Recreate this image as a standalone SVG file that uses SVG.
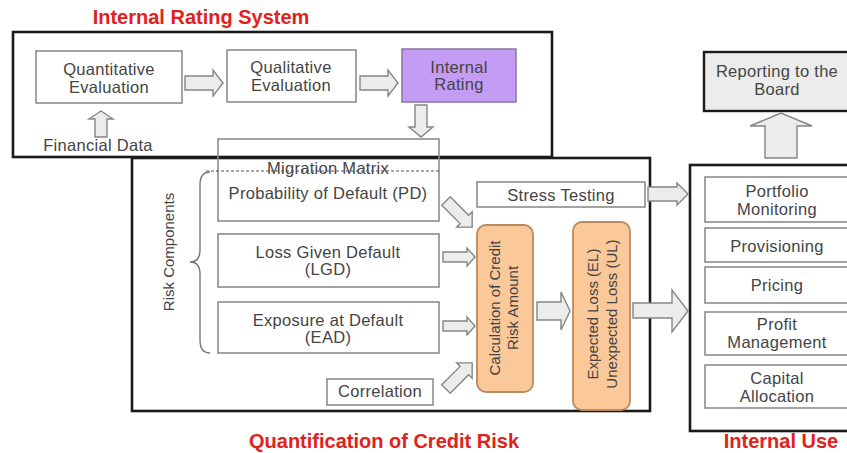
<svg xmlns="http://www.w3.org/2000/svg" width="847" height="453" viewBox="0 0 847 453">
  <style>
    .frame { fill: none; stroke: #1a1a1a; stroke-width: 2.6; }
    .box { fill: #ffffff; stroke: #8c8c8c; stroke-width: 1.6; }
    .txt { font-family: "Liberation Sans", Arial, sans-serif; font-size: 16.5px; letter-spacing: 0.3px; fill: #444444; text-anchor: middle; }
    .vtxt { font-family: "Liberation Sans", Arial, sans-serif; font-size: 15px; fill: #444444; text-anchor: middle; }
    .title { font-family: "Liberation Sans", Arial, sans-serif; font-size: 20px; font-weight: bold; fill: #e0211c; text-anchor: middle; }
    .barrow { fill: #ececec; stroke: #858585; stroke-width: 1.4; stroke-linejoin: miter; }
    .calc { fill: #fbc999; stroke: #b88a60; stroke-width: 1.8; }
  </style>
  <rect x="0" y="0" width="847" height="453" fill="#ffffff"/>

  <!-- section titles -->
  <text class="title" x="201" y="24">Internal Rating System</text>
  <text class="title" x="384" y="448">Quantification of Credit Risk</text>
  <text class="title" x="781" y="448">Internal Use</text>

  <!-- section frames -->
  <g id="frames">
    <rect class="frame" x="13" y="32" width="539" height="125"/>
    <rect class="frame" x="132" y="158" width="518" height="253"/>
    <rect class="frame" x="690" y="165" width="170" height="266"/>
  </g>

  <!-- internal rating system -->
  <g id="quantitative">
    <rect class="box" x="36" y="51" width="146" height="52"/>
    <text class="txt" x="109" y="75">Quantitative</text>
    <text class="txt" x="109" y="93">Evaluation</text>
  </g>
  <g id="qualitative">
    <rect class="box" x="227" y="50" width="129" height="52"/>
    <text class="txt" x="291" y="73">Qualitative</text>
    <text class="txt" x="291" y="91">Evaluation</text>
  </g>
  <g id="internal-rating">
    <rect x="402" y="49" width="114" height="53" fill="#c59cf3" stroke="#8d7fa3" stroke-width="1.6"/>
    <text class="txt" x="459" y="73">Internal</text>
    <text class="txt" x="459" y="90">Rating</text>
  </g>
  <g id="financial-data">
    <text class="txt" x="98" y="151">Financial Data</text>
  </g>

  <!-- risk components -->
  <g id="probability-of-default">
    <rect x="218" y="139" width="221" height="82" fill="none" stroke="#8c8c8c" stroke-width="1.6"/>
    <text class="txt" x="328" y="174">Migration Matrix</text>
    <line x1="206" y1="171" x2="439" y2="171" stroke="#555" stroke-width="1.1" stroke-dasharray="3 2"/>
    <text class="txt" x="328" y="199">Probability of Default (PD)</text>
  </g>
  <g id="loss-given-default">
    <rect class="box" x="218" y="234" width="221" height="53"/>
    <text class="txt" x="328" y="258">Loss Given Default</text>
    <text class="txt" x="328" y="275">(LGD)</text>
  </g>
  <g id="exposure-at-default">
    <rect class="box" x="218" y="302" width="221" height="51"/>
    <text class="txt" x="328" y="326">Exposure at Default</text>
    <text class="txt" x="328" y="343">(EAD)</text>
  </g>
  <g id="correlation">
    <rect class="box" x="327" y="379" width="106" height="26"/>
    <text class="txt" x="380" y="397">Correlation</text>
  </g>
  <g id="risk-components">
    <path d="M210,172 Q200,172 200,185 L200,250 Q200,262 190,262 Q200,262 200,274 L200,340 Q200,353 210,353" fill="none" stroke="#777" stroke-width="1.4"/>
    <text class="vtxt" transform="translate(174,252) rotate(-90)">Risk Components</text>
  </g>
  <g id="stress-testing">
    <rect class="box" x="477" y="182" width="168" height="25"/>
    <text class="txt" x="561" y="201">Stress Testing</text>
  </g>
  <g id="credit-risk-amount">
    <rect class="calc" x="477" y="225" width="56" height="167" rx="9"/>
    <text class="vtxt" transform="translate(500,308) rotate(-90)">Calculation of Credit</text>
    <text class="vtxt" transform="translate(518,308) rotate(-90)">Risk Amount</text>
  </g>
  <g id="expected-loss">
    <rect class="calc" x="573" y="222" width="57" height="188" rx="9"/>
    <text class="vtxt" transform="translate(598,314) rotate(-90)">Expected Loss (EL)</text>
    <text class="vtxt" transform="translate(617,314) rotate(-90)">Unexpected Loss (UL)</text>
  </g>

  <!-- internal use -->
  <g id="reporting">
    <rect x="704" y="52" width="150" height="59" fill="#ececec" stroke="#1a1a1a" stroke-width="2.4"/>
    <text class="txt" x="777" y="77">Reporting to the</text>
    <text class="txt" x="777" y="95">Board</text>
  </g>
  <g id="portfolio-monitoring">
    <rect class="box" x="705" y="177" width="150" height="45"/>
    <text class="txt" x="777" y="197">Portfolio</text>
    <text class="txt" x="777" y="215">Monitoring</text>
  </g>
  <g id="provisioning">
    <rect class="box" x="705" y="228" width="150" height="34"/>
    <text class="txt" x="777" y="252">Provisioning</text>
  </g>
  <g id="pricing">
    <rect class="box" x="705" y="267" width="150" height="36"/>
    <text class="txt" x="777" y="291">Pricing</text>
  </g>
  <g id="profit-management">
    <rect class="box" x="705" y="312" width="150" height="43"/>
    <text class="txt" x="777" y="330">Profit</text>
    <text class="txt" x="777" y="348">Management</text>
  </g>
  <g id="capital-allocation">
    <rect class="box" x="705" y="365" width="150" height="43"/>
    <text class="txt" x="777" y="384">Capital</text>
    <text class="txt" x="777" y="402">Allocation</text>
  </g>

  <!-- block arrow connectors -->
  <g id="connectors">
    <!-- quantitative -> qualitative -->
    <polygon class="barrow" points="185,76 213,76 213,70 223,83 213,96 213,90 185,90"/>
    <!-- qualitative -> internal rating -->
    <polygon class="barrow" points="360,76 388,76 388,70 398,83 388,96 388,90 360,90"/>
    <!-- financial data -> quantitative -->
    <polygon class="barrow" points="95,137 95,119 89,119 101,111 113,119 107,119 107,137"/>
    <!-- internal rating -> migration matrix -->
    <polygon class="barrow" points="415,105 427,105 427,127 433,127 421,137 409,127 415,127"/>
    <!-- PD -> calculation -->
    <polygon class="barrow" transform="translate(446,201) rotate(45)" points="0,-6 26,-6 26,-11 37,0 26,11 26,6 0,6"/>
    <!-- LGD -> calculation -->
    <polygon class="barrow" points="443,252 467,252 467,248 475,257 467,266 467,262 443,262"/>
    <!-- EAD -> calculation -->
    <polygon class="barrow" points="443,321 467,321 467,317 475,326 467,335 467,331 443,331"/>
    <!-- correlation -> calculation -->
    <polygon class="barrow" transform="translate(446,389) rotate(-45)" points="0,-6 26,-6 26,-11 37,0 26,11 26,6 0,6"/>
    <!-- calculation -> expected loss -->
    <polygon class="barrow" points="537,302 561,302 561,292 570,311 561,330 561,320 537,320"/>
    <!-- expected loss -> internal use -->
    <polygon class="barrow" points="633,303 672,303 672,290 688,311 672,332 672,318 633,318"/>
    <!-- stress testing -> internal use -->
    <polygon class="barrow" points="648,187 677,187 677,183 688,194 677,205 677,201 648,201"/>
    <!-- internal use -> reporting -->
    <polygon class="barrow" points="765,158 765,126 750,126 781,113 812,126 797,126 797,158"/>
  </g>
</svg>
